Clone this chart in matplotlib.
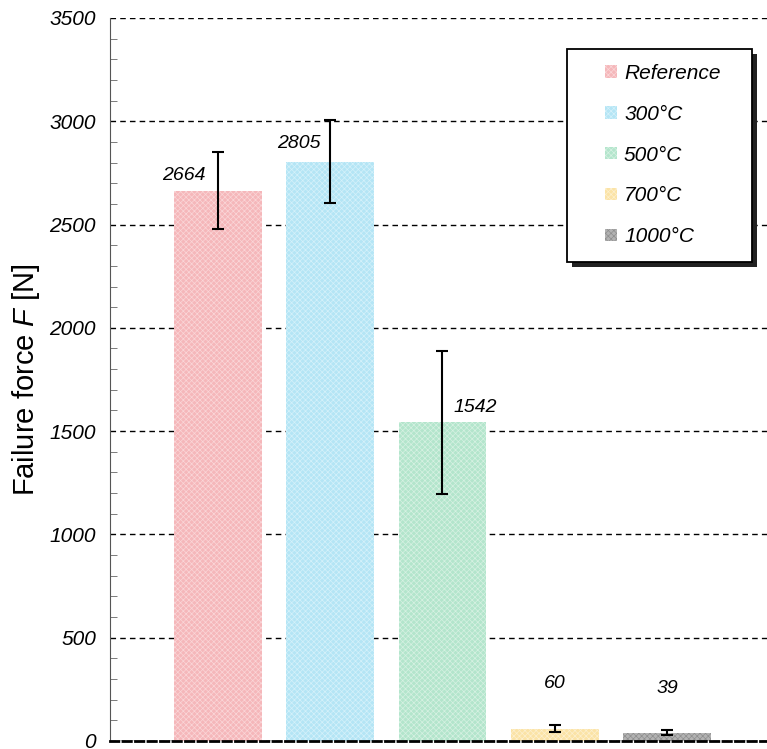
import matplotlib.pyplot as plt
from matplotlib.patches import Rectangle
from matplotlib.ticker import MultipleLocator

# Data
groups = ["Reference", "300°C", "500°C", "700°C", "1000°C"]
force = [2664, 2805, 1542, 60, 39]
err = [185, 200, 345, 15, 12]
colors = ["#f5b7ba", "#b4e5f5", "#b3e5cc", "#fbe3a6", "#b2b2b2"]
hatch_colors = ["#fad6d8", "#d5f1fa", "#d6f1e2", "#fdf0cf", "#8e8e8e"]

plt.rcParams["font.family"] = ["Liberation Sans", "DejaVu Sans"]
plt.rcParams["mathtext.fontset"] = "custom"
plt.rcParams["mathtext.rm"] = "Liberation Sans"
plt.rcParams["mathtext.it"] = "Liberation Sans:italic"
plt.rcParams["hatch.linewidth"] = 0.5

fig = plt.figure(figsize=(7.67, 7.49), dpi=100)
ax = fig.add_axes([0.1434, 0.0107, 0.8566, 0.9653])

x = list(range(len(groups)))
for i in x:
    ax.bar(i, force[i], width=0.78, color=colors[i], hatch="xxxxxx",
           edgecolor=hatch_colors[i], linewidth=0, label=groups[i], zorder=2)
ax.errorbar(x, force, yerr=err, fmt="none", ecolor="black", elinewidth=1.5,
            capsize=4, capthick=1.5, zorder=3)

# value labels (offsets in data units)
lab_dx = [-0.3, -0.28, 0.29, 0, 0]
lab_dy = [30, 45, 30, 175, 172]
for i in x:
    ax.text(i + lab_dx[i], force[i] + lab_dy[i], str(force[i]),
            ha="center", va="bottom", fontsize=14, style="italic")

ax.set_xlim(-0.96, 4.89)
ax.set_ylim(0, 3500)
ax.yaxis.set_major_locator(MultipleLocator(500))
ax.yaxis.set_minor_locator(MultipleLocator(100))
ax.tick_params(axis="y", which="major", direction="out", length=0, labelsize=15, pad=10)
ax.tick_params(axis="y", which="minor", direction="in", length=5, color="#666666")
ax.set_xticks([])
for lab in ax.get_yticklabels():
    lab.set_fontstyle("italic")

ax.grid(axis="y", which="major", linestyle=(0, (4, 3)), color="black", linewidth=1, zorder=1)
ax.spines["top"].set_visible(False)
ax.spines["right"].set_visible(False)
ax.spines["left"].set_color("#555555")
ax.spines["bottom"].set_linestyle((0, (3, 1.5)))
ax.spines["bottom"].set_linewidth(2)

ax.set_ylabel("Failure force $F$ [N]", fontsize=21)
ax.yaxis.set_label_coords(-0.104, 0.5)

# legend box with shadow, drawn by hand so its padding matches
bx, by, bw, bh = 0.6956, 0.6625, 0.2816, 0.2945
ax.add_patch(Rectangle((bx + 0.007, by - 0.007), bw, bh, transform=ax.transAxes,
                       facecolor="#222222", edgecolor="none", zorder=4))
ax.add_patch(Rectangle((bx, by), bw, bh, transform=ax.transAxes,
                       facecolor="white", edgecolor="black", linewidth=1.3, zorder=5))
leg = ax.legend(loc="upper left", bbox_to_anchor=(0.738, 0.951), frameon=False,
                fontsize=15, handlelength=0.55, handleheight=0.55,
                labelspacing=1.05, borderpad=0, handletextpad=0.35)
leg.set_zorder(6)
for t in leg.get_texts():
    t.set_fontstyle("italic")

fig.savefig("out.png", dpi=100)
